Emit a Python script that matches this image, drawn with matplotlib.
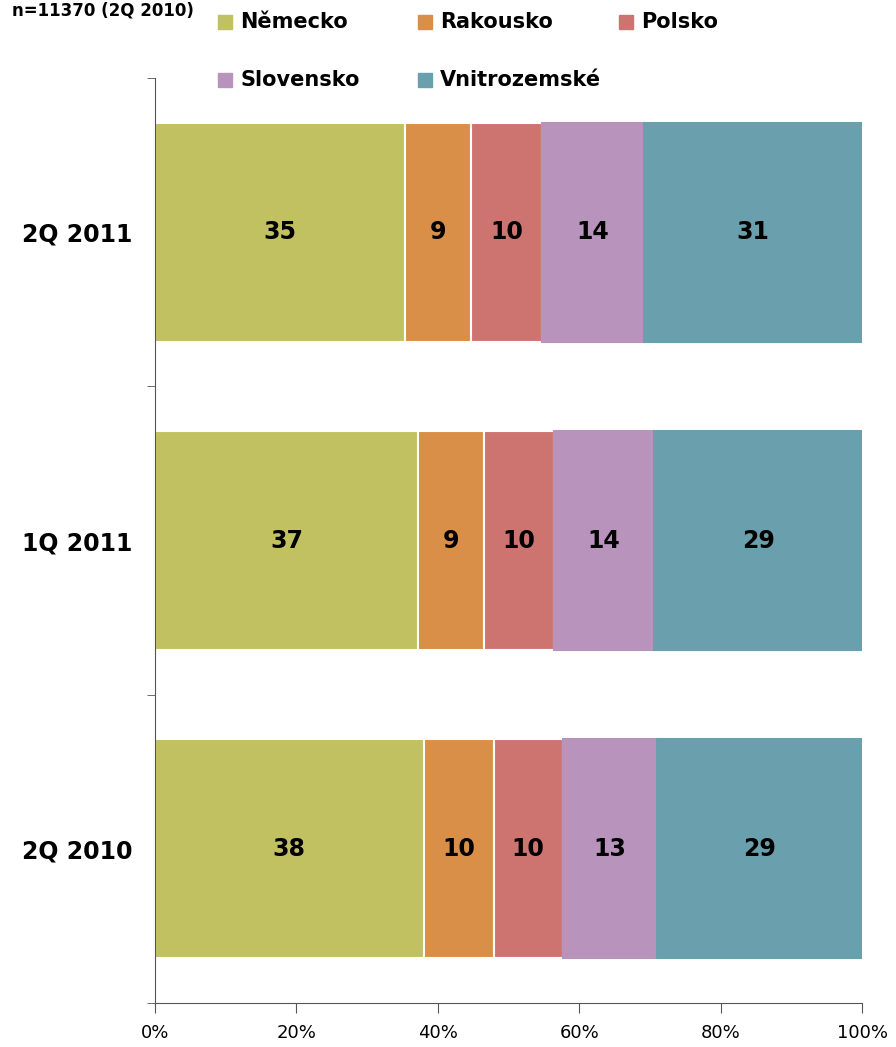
import matplotlib
matplotlib.use("Agg")
import matplotlib.pyplot as plt
from matplotlib.patches import Rectangle
import numpy as np

# data (percent shares)
periods = ["2Q 2010", "1Q 2011", "2Q 2011"]
countries = ["Německo", "Rakousko", "Polsko", "Slovensko", "Vnitrozemské"]
nemecko = [38.0, 37.2, 35.4]
rakousko = [9.9, 9.3, 9.3]
polsko = [9.8, 9.9, 10.0]
slovensko = [13.3, 14.2, 14.5]
vnitro = [29.0, 29.4, 30.8]
xticks = [0, 20, 40, 60, 80, 100]
note = "n=11370 (2Q 2010)"

colors = ["#C2C162", "#D98F47", "#CE7470", "#B894BD", "#6A9FAD"]
series = [nemecko, rakousko, polsko, slovensko, vnitro]

fig = plt.figure(figsize=(8.96, 10.47), dpi=100)
ax = fig.add_axes([155/896, 1-1003/1047, 707/896, (1003-78)/1047])

y = np.arange(len(periods))
left = np.zeros(len(periods))
for i, (vals, col) in enumerate(zip(series, colors)):
    ec = "white" if i < 3 else col
    bars = ax.barh(y, vals, left=left, height=0.71, color=col,
                   edgecolor=ec, linewidth=1.5)
    ax.bar_label(bars, labels=[f"{v:.0f}" for v in vals], label_type="center",
                 fontsize=17, fontweight="bold", color="black")
    left = left + np.array(vals)

ax.set_xlim(0, 100)
ax.set_ylim(-0.5, 2.5)
ax.set_xticks(xticks)
ax.set_xticklabels([f"{t}%" for t in xticks], fontsize=13)
ax.set_yticks(y)
ax.set_yticklabels(periods, fontsize=17, fontweight="bold")
ax.set_yticks([-0.5, 0.5, 1.5, 2.5], minor=True)
ax.tick_params(axis="y", which="major", length=0, pad=16)
ax.tick_params(axis="y", which="minor", length=6, color="#555555")
ax.tick_params(axis="x", length=7, pad=8, color="#555555")
for s in ["top", "right"]:
    ax.spines[s].set_visible(False)
for s in ["left", "bottom"]:
    ax.spines[s].set_color("#555555")

# legend laid out like the original, 3 columns x 2 rows
colx = [218, 418, 619]
rowy = [22, 80]
for i, (name, col) in enumerate(zip(countries, colors)):
    px = colx[i % 3]
    py = rowy[i // 3]
    fig.patches.append(Rectangle((px/896, 1-(py+7)/1047), 14/896, 14/1047,
                                 transform=fig.transFigure, color=col))
    fig.text((px+22)/896, 1-py/1047, name, fontsize=15, fontweight="bold",
             va="center", ha="left")

# sample note in the top-left corner
fig.text(12/896, 1-2/1047, note, fontsize=12, fontweight="bold", va="top", ha="left")

fig.savefig("out.png", dpi=100)
